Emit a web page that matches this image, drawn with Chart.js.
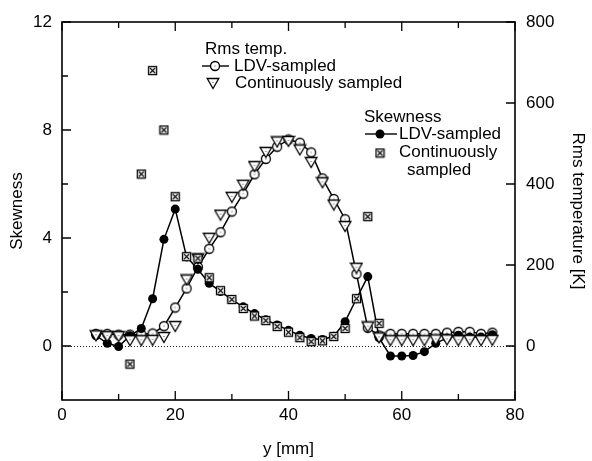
<!DOCTYPE html>
<html>
<head>
<meta charset="utf-8">
<script src="https://cdn.jsdelivr.net/npm/chart.js@4.4.1/dist/chart.umd.min.js"></script>
<style>
  html, body { margin: 0; padding: 0; background: #fff; }
</style>
</head>
<body>
<canvas id="chart" width="592" height="461"></canvas>
<script>
// ---- values ----
// traverse positions y [mm]
const yPos = [6, 8, 10, 12, 14, 16, 18, 20, 22, 24, 26, 28, 30, 32, 34, 36, 38, 40,
              42, 44, 46, 48, 50, 52, 54, 56, 58, 60, 62, 64, 66, 68, 70, 72, 74, 76];

// rms temperature [K], right axis
const rmsLdv = [30, 30, 28, 28, 29, 31, 49, 95, 142, 195, 240, 281, 332, 376, 424, 462, 492, 510,
                502, 478, 414, 363, 313, 178, 45, 26, 30, 30, 30, 30, 30, 33, 35, 35, 30, 33];
const rmsCont = [25, 23, 23, 13, 13, 14, 21, 48, 163, 215, 266, 323, 367, 397, 443, 478, 504, 505,
                 484, 453, 403, 348, 295, 192, 47, 20, 13, 13, 13, 13, 15, 15, 13, 14, 13, 14];

// skewness, left axis
const skewLdv = [0.38, 0.1, -0.02, 0.38, 0.65, 1.75, 3.95, 5.07, 3.3, 2.84, 2.32, 2.02, 1.72, 1.45,
                 1.2, 0.97, 0.78, 0.58, 0.4, 0.28, 0.24, 0.36, 0.9, 1.75, 2.57, 0.3, -0.37, -0.37,
                 -0.35, -0.21, 0.1, 0.3, 0.4, 0.33, 0.33, 0.42];
const skewContPos = [12, 14, 16, 18, 20, 22, 24, 26, 28, 30, 32, 34, 36, 38, 40, 42, 44, 46,
                     48, 50, 52, 54, 56];
const skewCont = [-0.67, 6.37, 10.2, 8.0, 5.53, 3.31, 3.25, 2.53, 2.05, 1.72, 1.39, 1.11, 0.94,
                  0.72, 0.51, 0.31, 0.16, 0.19, 0.35, 0.65, 1.75, 4.79, 0.84];

// axis ticks
const xTicks = [0, 20, 40, 60, 80];
const xMinorTicks = [10, 30, 50, 70];
const skewTicks = [0, 4, 8, 12];
const skewMinorTicks = [2, 6, 10];
const rmsTicks = [0, 200, 400, 600, 800];

const FONT = '"Liberation Sans", Arial, Helvetica, sans-serif';
const INK = '#000';

// ---- marker images ----
function makeMarker(w, h, draw) {
  const c = document.createElement('canvas');
  c.width = w; c.height = h;
  const g = c.getContext('2d');
  g.strokeStyle = INK;
  g.fillStyle = '#fff';
  g.lineWidth = 1.3;
  draw(g);
  return c;
}

const openCircle = makeMarker(12, 12, g => {
  g.beginPath(); g.arc(6, 6, 4.5, 0, Math.PI * 2); g.fill(); g.stroke();
  g.fillStyle = '#444'; g.fillRect(5.5, 5.5, 1, 1);
});

const downTriangle = makeMarker(14, 13, g => {
  g.beginPath(); g.moveTo(1.2, 1.5); g.lineTo(12.8, 1.5); g.lineTo(7, 11.5); g.closePath();
  g.fill(); g.stroke();
  g.fillStyle = '#444'; g.fillRect(6.5, 5, 1, 1);
});

const crossBox = makeMarker(11, 11, g => {
  g.fillRect(1, 1, 9, 9);
  g.strokeRect(1.5, 1.5, 8, 8);
  g.lineWidth = 1.1;
  g.beginPath();
  g.moveTo(3, 3); g.lineTo(8, 8);
  g.moveTo(8, 3); g.lineTo(3, 8);
  g.stroke();
});

function toPoints(xs, ys) {
  return xs.map((x, i) => ({ x: x, y: ys[i] }));
}

// frame, inward ticks, zero line and the two text legends
const framePlugin = {
  id: 'frame',
  beforeDatasetsDraw(chart) {
    const { ctx, chartArea: a, scales } = chart;
    const y0 = Math.round(scales.y.getPixelForValue(0)) + 0.5;
    ctx.save();
    ctx.strokeStyle = '#222';
    ctx.lineWidth = 1;
    ctx.setLineDash([1, 2]);
    ctx.beginPath();
    ctx.moveTo(a.left, y0);
    ctx.lineTo(a.right, y0);
    ctx.stroke();
    ctx.restore();
  },
  afterDatasetsDraw(chart) {
    const { ctx, chartArea: a, scales } = chart;
    ctx.save();
    ctx.strokeStyle = INK;
    ctx.lineWidth = 1.6;
    ctx.strokeRect(a.left, a.top, a.right - a.left, a.bottom - a.top);

    ctx.lineWidth = 1.3;
    ctx.beginPath();
    const xTick = (v, len) => {
      const px = scales.x.getPixelForValue(v);
      ctx.moveTo(px, a.bottom); ctx.lineTo(px, a.bottom - len);
      ctx.moveTo(px, a.top); ctx.lineTo(px, a.top + len);
    };
    xTicks.forEach(v => xTick(v, 9));
    xMinorTicks.forEach(v => xTick(v, 6));
    skewTicks.forEach(v => {
      const py = scales.y.getPixelForValue(v);
      ctx.moveTo(a.left, py); ctx.lineTo(a.left + 9, py);
    });
    skewMinorTicks.forEach(v => {
      const py = scales.y.getPixelForValue(v);
      ctx.moveTo(a.left, py); ctx.lineTo(a.left + 6, py);
    });
    rmsTicks.forEach(v => {
      const py = scales.y2.getPixelForValue(v);
      ctx.moveTo(a.right, py); ctx.lineTo(a.right - 9, py);
    });
    ctx.stroke();

    // legends
    ctx.fillStyle = INK;
    ctx.font = '17px ' + FONT;
    ctx.textBaseline = 'middle';
    ctx.textAlign = 'left';

    ctx.fillText('Rms temp.', 205, 49);
    ctx.lineWidth = 1.4;
    ctx.beginPath(); ctx.moveTo(202, 66); ctx.lineTo(229, 66); ctx.stroke();
    ctx.drawImage(openCircle, 215 - 6, 66 - 6);
    ctx.fillText('LDV-sampled', 234, 66);
    ctx.drawImage(downTriangle, 213 - 7, 83 - 6);
    ctx.fillText('Continuously sampled', 235, 83);

    ctx.fillText('Skewness', 364, 117);
    ctx.beginPath(); ctx.moveTo(365, 134); ctx.lineTo(397, 134); ctx.stroke();
    ctx.beginPath(); ctx.arc(380, 134, 4.5, 0, Math.PI * 2); ctx.fill();
    ctx.fillText('LDV-sampled', 399, 134);
    ctx.drawImage(crossBox, 380 - 5.5, 153 - 5.5);
    ctx.fillText('Continuously', 399, 152);
    ctx.fillText('sampled', 407, 170);
    ctx.restore();
  }
};

const tickFont = { family: FONT, size: 17 };

new Chart(document.getElementById('chart'), {
  type: 'scatter',
  data: {
    datasets: [
      {
        label: 'Skewness, continuously sampled',
        data: toPoints(skewContPos, skewCont),
        yAxisID: 'y',
        pointStyle: crossBox,
        showLine: false
      },
      {
        label: 'Rms temp., continuously sampled',
        data: toPoints(yPos, rmsCont),
        yAxisID: 'y2',
        pointStyle: downTriangle,
        showLine: false
      },
      {
        label: 'Skewness, LDV-sampled',
        data: toPoints(yPos, skewLdv),
        yAxisID: 'y',
        showLine: true,
        borderColor: INK,
        borderWidth: 1.5,
        pointStyle: 'circle',
        pointRadius: 4.5,
        pointBackgroundColor: INK,
        pointBorderWidth: 0
      },
      {
        label: 'Rms temp., LDV-sampled',
        data: toPoints(yPos, rmsLdv),
        yAxisID: 'y2',
        showLine: true,
        borderColor: INK,
        borderWidth: 1.5,
        pointStyle: openCircle
      }
    ]
  },
  options: {
    responsive: false,
    animation: false,
    events: [],
    layout: { padding: { top: 22, right: 0, left: 0, bottom: 0 } },
    plugins: { legend: { display: false }, tooltip: { enabled: false } },
    scales: {
      x: {
        type: 'linear',
        min: 0,
        max: 80,
        afterBuildTicks: s => { s.ticks = xTicks.map(v => ({ value: v })); },
        afterFit: s => { s.height = 61; },
        grid: { display: false, drawTicks: false },
        border: { display: false },
        ticks: { font: tickFont, color: INK, padding: 5, maxRotation: 0 },
        title: { display: true, text: 'y [mm]', font: tickFont, color: INK, padding: { top: 0, bottom: 1 } }
      },
      y: {
        type: 'linear',
        position: 'left',
        min: -2,
        max: 12,
        afterBuildTicks: s => { s.ticks = skewTicks.map(v => ({ value: v })); },
        afterFit: s => { s.width = 62; },
        grid: { display: false, drawTicks: false },
        border: { display: false },
        ticks: { font: tickFont, color: INK, padding: 10 },
        title: { display: true, text: 'Skewness', font: tickFont, color: INK, padding: { top: 7, bottom: 0 } }
      },
      y2: {
        type: 'linear',
        position: 'right',
        min: -400 / 3,
        max: 800,
        afterBuildTicks: s => { s.ticks = rmsTicks.map(v => ({ value: v })); },
        afterFit: s => { s.width = 77; },
        grid: { display: false, drawTicks: false },
        border: { display: false },
        ticks: { font: tickFont, color: INK, padding: 11 },
        title: { display: true, text: 'Rms temperature [K]', font: tickFont, color: INK, padding: { top: 4, bottom: 0 } }
      }
    }
  },
  plugins: [framePlugin]
});
</script>
</body>
</html>
